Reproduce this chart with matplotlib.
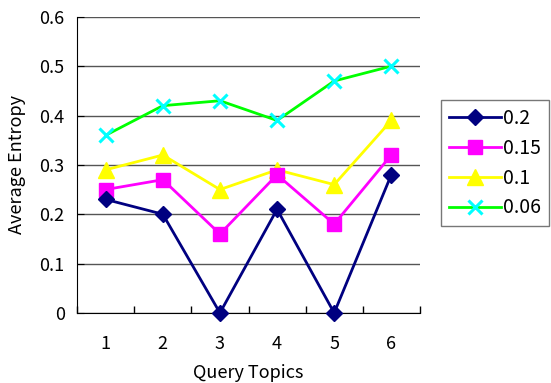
import numpy as np
import matplotlib
matplotlib.use("Agg")
import matplotlib.pyplot as plt

plt.rcParams['font.family'] = ['Noto Sans CJK JP', 'DejaVu Sans']

topics = [1, 2, 3, 4, 5, 6]
ent_02 = [0.23, 0.20, 0.0, 0.21, 0.0, 0.28]
ent_015 = [0.25, 0.27, 0.16, 0.28, 0.18, 0.32]
ent_01 = [0.29, 0.32, 0.25, 0.29, 0.26, 0.39]
ent_006 = [0.36, 0.42, 0.43, 0.39, 0.47, 0.50]
labels = ['0.2', '0.15', '0.1', '0.06']

fig = plt.figure(figsize=(5.51, 3.83), dpi=100)
ax = fig.add_axes([0.140, 0.183, 0.622, 0.773])

ax.plot(topics, ent_02, color='#000080', marker='D', markersize=8, lw=2, label=labels[0], clip_on=False, zorder=5)
ax.plot(topics, ent_015, color='#ff00ff', marker='s', markersize=10, lw=2, label=labels[1], clip_on=False, zorder=4)
ax.plot(topics, ent_01, color='#ffff00', marker='^', markersize=11, lw=2, label=labels[2], clip_on=False, zorder=3)
ax.plot(topics, ent_006, color='#00ff00', marker='x', markersize=10, mew=2.2, mec='#00ffff', lw=2,
        label=labels[3], clip_on=False, zorder=2)

ax.set_xlim(0.5, 6.5)
ax.set_ylim(0, 0.6)
ax.set_yticks(np.arange(0, 0.61, 0.1))
ax.set_yticklabels(['0', '0.1', '0.2', '0.3', '0.4', '0.5', '0.6'])
ax.set_xticks(topics)
ax.set_xticks(np.arange(0.5, 6.6, 1), minor=True)
ax.tick_params(axis='x', which='major', length=0, labelsize=13, pad=16)
ax.tick_params(axis='x', which='minor', length=5, direction='in', width=1)
ax.tick_params(axis='y', length=5, direction='in', labelsize=13, pad=9)
ax.yaxis.grid(True, color='#555555', lw=1)
ax.set_axisbelow(True)
for s in ['top', 'right']:
    ax.spines[s].set_visible(False)
ax.spines['left'].set_color('black')
ax.spines['bottom'].set_color('black')

ax.set_xlabel('Query Topics', fontsize=13, labelpad=8)
ax.set_ylabel('Average Entropy', fontsize=13, labelpad=10)

leg = fig.legend(loc='upper left', bbox_to_anchor=(0.800, 0.738), fontsize=14, frameon=True,
                 fancybox=False, edgecolor='#555555', handlelength=2.7, borderpad=0.4,
                 labelspacing=0.45, handletextpad=0.1, borderaxespad=0)
leg.get_frame().set_linewidth(1)

fig.savefig('out.png', dpi=100)
